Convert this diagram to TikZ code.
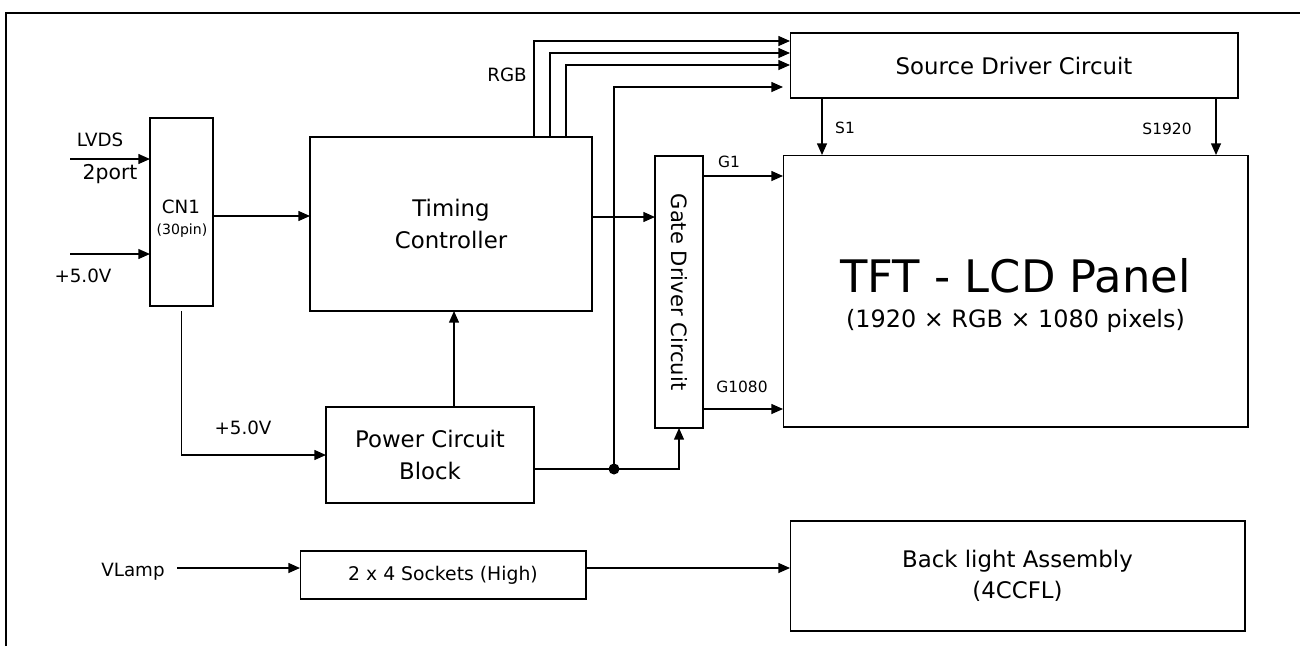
\documentclass[tikz,border=0pt]{standalone}
\usepackage{fontspec}
\setmainfont{DejaVu Sans}
\usetikzlibrary{arrows.meta}

\tikzset{
  blk/.style={draw, line width=0.6pt, inner sep=0pt, outer sep=0pt, align=center, font=\fontsize{13}{18}\selectfont},
  thkblk/.style={blk, line width=1.2pt},
  arr/.style={-{Triangle[length=6.6pt,width=5.6pt]}, line width=0.85pt},
  lbl/.style={inner sep=0pt, font=\fontsize{10.4}{12}\selectfont},
  pinlbl/.style={inner sep=0pt, font=\fontsize{8.8}{10}\selectfont}
}

\begin{document}
\begin{tikzpicture}[x=0.02cm, y=-0.02cm]
\useasboundingbox (0,0) rectangle (1300,646);
\draw[line width=1.1pt] (6,646) -- (6,13) -- (1300,13);

% blocks
\node[blk, minimum width=1.26cm, minimum height=3.76cm] (cn1) at (181.5,212) {};
\node[lbl] (cn1name) at (181,207) {CN1};
\node[inner sep=0pt, font=\fontsize{8}{9}\selectfont] (cn1pin) at (182,231) {(30pin)};
\node[thkblk, minimum width=5.64cm, minimum height=3.48cm] (tcon) at (451,224) {Timing\\Controller};
\node[blk, minimum width=8.96cm, minimum height=1.3cm] (src) at (1014,65.5) {Source Driver Circuit};
\node[thkblk, minimum width=0.96cm, minimum height=5.44cm] (gate) at (679,292) {};
\node[rotate=-90, inner sep=0pt, font=\fontsize{12}{14}\selectfont] (gatename) at (gate.center) {Gate Driver Circuit};
\node[blk, minimum width=9.3cm, minimum height=5.44cm] (panel) at (1015.5,291) {};
\node[inner sep=0pt, font=\fontsize{25.5}{30}\selectfont] (panelname) at (1015.5,276) {TFT - LCD Panel};
\node[inner sep=0pt, font=\fontsize{13.6}{16}\selectfont] (panelres) at (1015.5,321) {(1920 × RGB × 1080 pixels)};
\node[blk, minimum width=4.16cm, minimum height=1.92cm] (power) at (430,455) {Power Circuit\\Block};
\node[blk, minimum width=5.72cm, minimum height=0.96cm, font=\fontsize{10.7}{13}\selectfont] (sock) at (443,575) {2 x 4 Sockets (High)};
\node[blk, minimum width=9.1cm, minimum height=2.2cm, font=\fontsize{13}{17.6}\selectfont] (blu) at (1017.5,576) {Back light Assembly\\(4CCFL)};

% inputs
\coordinate (lvds) at (70,159);
\coordinate (vin) at (70,254);
\coordinate (vlamp) at (177,568);
\draw[arr] (lvds) -- (lvds -| cn1.west);
\draw[arr] (vin) -- (vin -| cn1.west);
\draw[arr] (vlamp) -- (vlamp -| sock.west);
\node[lbl] (lvdsname) at (100,140) {LVDS};
\node[inner sep=0pt, font=\fontsize{11.6}{13}\selectfont] (lvdsport) at (110,174) {2port};
\node[lbl] (vinname) at (83,276) {+5.0V};
\node[lbl] (vlampname) at (133,572) {VLamp};

% signal paths
\draw[arr] (cn1.east |- 0,216) -- (tcon.west |- 0,216);
\draw[arr] (tcon.east |- 0,217) -- (gate.west |- 0,217);
\foreach \xx/\yy in {534/41, 550/53, 566/65}
  \draw[arr] (tcon.north -| \xx,0) |- (src.west |- 0,\yy);
\node[lbl] (rgb) at (507,75) {RGB};

\draw[arr] (src.south -| 822,0) -- (panel.north -| 822,0);
\draw[arr] (src.south -| 1216,0) -- (panel.north -| 1216,0);
\node[pinlbl] (s1) at (845,128) {S1};
\node[pinlbl] (s1920) at (1167,129) {S1920};

\draw[arr] (gate.east |- 0,176) -- (panel.west |- 0,176);
\draw[arr] (gate.east |- 0,409) -- (panel.west |- 0,409);
\node[pinlbl] (g1) at (729,162) {G1};
\node[pinlbl] (g1080) at (742,387) {G1080};

% power
\draw[arr] ([yshift=-0.1cm]cn1.south) |- (power.west);
\node[lbl] (pwrin) at (243,428) {+5.0V};
\draw[arr] (power.north -| 454,0) -- (tcon.south -| 454,0);
\coordinate (jn) at (614,469);
\draw[arr] (power.east |- jn) -| (gate.south);
\draw[arr, shorten >=0.14cm] (jn) |- (src.west |- 0,87);
\fill (jn) circle (0.11cm);

\draw[arr] (sock.east |- vlamp) -- (blu.west |- vlamp);
\end{tikzpicture}
\end{document}
